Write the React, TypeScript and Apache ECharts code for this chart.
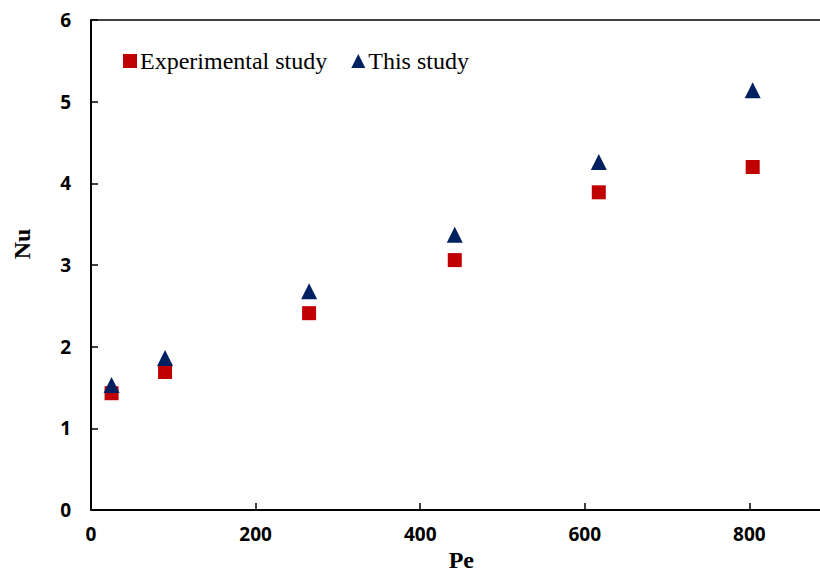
import React, { useEffect, useRef } from "react";
import * as echarts from "echarts";

const peExperimental = [25, 90, 265, 442, 617, 804];
const nuExperimental = [1.43, 1.69, 2.41, 3.06, 3.89, 4.2];
const peThisStudy = [25, 90, 265, 442, 617, 804];
const nuThisStudy = [1.53, 1.86, 2.68, 3.37, 4.26, 5.14];
const seriesNames = ["Experimental study", "This study"];
const xTitle = "Pe";
const yTitle = "Nu";

export default function App() {
  const ref = useRef<HTMLDivElement>(null);
  useEffect(() => {
    document.body.style.margin = "0";
    const chart = echarts.init(ref.current!, null, { renderer: "svg" });
    const tickFont = {
      fontFamily: "Open Sans",
      fontWeight: "bold" as const,
      fontSize: 19,
      color: "#000",
    };
    chart.setOption({
      animation: false,
      backgroundColor: "#fff",
      grid: {
        left: 91,
        top: 20,
        width: 740.7,
        height: 490,
        show: false,
        containLabel: false,
        outerBoundsMode: "none",
      },
      legend: {
        left: 118,
        top: 44,
        itemWidth: 14,
        itemHeight: 14,
        itemGap: 24,
        textStyle: {
          fontFamily: "Liberation Serif",
          fontSize: 24,
          color: "#000",
          padding: [0, 0, 0, -2],
        },
        data: [
          { name: seriesNames[0], icon: "rect" },
          { name: seriesNames[1], icon: "triangle" },
        ],
      },
      xAxis: [
        {
          type: "value",
          min: 0,
          max: 900,
          interval: 200,
          name: xTitle,
          nameLocation: "middle",
          nameGap: 37,
          nameTextStyle: {
            fontFamily: "Liberation Serif",
            fontWeight: "bold",
            fontSize: 24,
            color: "#000",
          },
          axisLine: { show: true, lineStyle: { color: "#000", width: 2 } },
          axisTick: { show: true, inside: true, length: 7, lineStyle: { color: "#000", width: 1.5 } },
          axisLabel: { ...tickFont, margin: 14, showMaxLabel: false },
          splitLine: { show: false },
        },
        {
          type: "value",
          position: "top",
          min: 0,
          max: 900,
          interval: 200,
          axisLine: { show: true, onZero: false, lineStyle: { color: "#000", width: 1.5 } },
          axisTick: { show: false },
          axisLabel: { show: false },
          splitLine: { show: false },
        },
      ],
      yAxis: {
        type: "value",
        min: 0,
        max: 6,
        interval: 1,
        axisLine: { show: true, lineStyle: { color: "#000", width: 2 } },
        axisTick: { show: true, inside: true, length: 7, lineStyle: { color: "#000", width: 1.5 } },
        axisLabel: { ...tickFont, margin: 20 },
        splitLine: { show: false },
      },
      graphic: [
        {
          type: "text",
          x: 22,
          y: 244,
          rotation: Math.PI / 2,
          style: {
            text: yTitle,
            fontFamily: "Liberation Serif",
            fontWeight: "bold",
            fontSize: 24,
            fill: "#000",
            textAlign: "center",
            textVerticalAlign: "middle",
          },
        },
      ],
      series: [
        {
          name: seriesNames[0],
          type: "scatter",
          symbol: "rect",
          symbolSize: 14,
          itemStyle: { color: "#C00000", opacity: 1 },
          data: peExperimental.map((x, i) => [x, nuExperimental[i]]),
          z: 2,
        },
        {
          name: seriesNames[1],
          type: "scatter",
          symbol: "triangle",
          symbolSize: 16,
          itemStyle: { color: "#002060", opacity: 1 },
          data: peThisStudy.map((x, i) => [x, nuThisStudy[i]]),
          z: 3,
        },
      ],
    });
    return () => chart.dispose();
  }, []);
  return <div ref={ref} style={{ width: 820, height: 572 }} />;
}
